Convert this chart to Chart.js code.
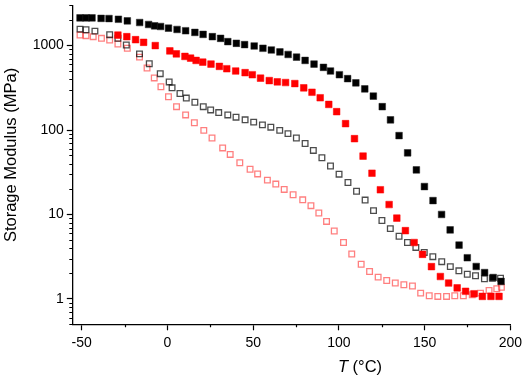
<!DOCTYPE html>
<html>
<head>
<meta charset="utf-8">
<script src="https://cdn.jsdelivr.net/npm/chart.js@4/dist/chart.umd.min.js"></script>
<style>
  body { margin: 0; background: #fff; }
  #wrap { width: 526px; height: 379px; }
</style>
</head>
<body>
<div id="wrap"><canvas id="chart"></canvas></div>
<script>
// storage modulus vs temperature, four samples
const blackFilledT = [-51, -47.5, -44, -38.7, -34.1, -28.6, -23.4, -16.2, -11, -7.5, -4, 0.6, 5.6, 10.6, 16, 20.8, 26.2, 31, 35.2, 40.2, 45, 50.6, 55.7, 60.6, 65.6, 70.4, 75.3, 80.3, 85.5, 91, 95.1, 100.3, 105.1, 109.9, 115.1, 120.1, 125.3, 130.1, 135.1, 140.1, 145.2, 149.9, 154.9, 159.9, 164.9, 170.1, 174.9, 180.1, 185, 190, 194.6];
const blackFilledE = [2128, 2128, 2128, 2100, 2090, 2050, 1963, 1875, 1778, 1715, 1683, 1607, 1552, 1499, 1432, 1357, 1275, 1218, 1114, 1064, 1027, 989, 929, 887, 841, 785, 730, 667, 604, 552, 500, 452, 406, 362, 307, 252, 189, 132, 85.9, 53.7, 33.7, 21.4, 14.6, 10, 6.56, 4.34, 3.07, 2.42, 2.05, 1.79, 1.61];

const redFilledT = [-28.9, -23.7, -18.6, -13.9, -7.1, 1.4, 5.2, 10.2, 13.5, 16.7, 20.6, 25.4, 30.3, 34.6, 39.8, 45.3, 49.5, 54.3, 59.4, 64.1, 68.9, 74.3, 79.5, 84.3, 89.1, 94.1, 98.7, 103.9, 109.1, 114.1, 119.3, 124.2, 129.3, 133.8, 138.8, 143.9, 148.8, 154, 159.2, 164, 169, 173.9, 178.8, 183.7, 188.7, 193.4];
const redFilledE = [1331, 1275, 1175, 1093, 1000, 865, 798, 744, 710, 667, 637, 604, 567, 532, 500, 478, 452, 411, 385, 372, 365, 355, 316, 280, 241, 201, 165, 119, 79, 49.1, 30.8, 19.6, 13.1, 9.05, 6.43, 4.65, 3.37, 2.41, 1.84, 1.54, 1.35, 1.23, 1.15, 1.07, 1.07, 1.07];

const blackOpenT = [-51, -47.5, -42.3, -33.7, -28.9, -24, -16.3, -10.6, -4.2, 1, 2.7, 7.3, 11, 16, 20.9, 25.2, 29.9, 35.2, 40, 45.3, 50.3, 55.4, 60.3, 65.5, 70.3, 75.2, 80.3, 85.1, 90.1, 95.1, 100.1, 105.3, 110.3, 115.3, 120.2, 125.1, 130, 135.1, 140, 144.9, 149.8, 154.8, 160, 165, 170, 174.9, 179.7, 184.9, 189.5, 194.3];
const blackOpenE = [1567, 1541, 1483, 1346, 1218, 1016, 798, 609, 465, 371, 316, 271, 239, 213, 189, 173, 161, 151, 142, 132, 124, 115, 108, 99, 90.6, 80.4, 69.2, 57.3, 46.9, 37.5, 30, 23.9, 18.8, 14.8, 11.1, 8.49, 6.79, 5.52, 4.66, 4.07, 3.55, 3.16, 2.76, 2.41, 2.15, 1.96, 1.88, 1.73, 1.76, 1.76];

const redOpenT = [-51, -47.5, -43.3, -38.5, -33.7, -28.9, -23.4, -16.3, -11.9, -7.7, -3.8, 0.6, 5.3, 10.6, 15.7, 21.2, 26, 32.2, 36.6, 42.2, 48.2, 52.6, 58.3, 63.2, 68.1, 73.3, 78.9, 83.7, 88.3, 92.8, 97.3, 102.7, 107.5, 113, 117.9, 122.9, 127.9, 132.9, 137.9, 142.9, 147.7, 152.7, 157.7, 162.8, 167.6, 172.6, 177.8, 182.6, 187.6, 192.1, 194.8];
const redOpenE = [1331, 1310, 1275, 1218, 1164, 1044, 930, 730, 542, 414, 325, 248, 189, 151, 122, 99, 80.4, 61.4, 51.4, 41, 34.3, 30.2, 25.5, 22.9, 19.8, 17.1, 14.9, 12.7, 10.4, 8.27, 6.36, 4.66, 3.4, 2.57, 2.11, 1.81, 1.65, 1.54, 1.47, 1.42, 1.17, 1.09, 1.07, 1.07, 1.09, 1.09, 1.12, 1.17, 1.26, 1.32, 1.37];

// axes: labelled (major) ticks and the short minor ones
const xLabels = [-50, 0, 50, 100, 150, 200];
const xMinor = [-25, 25, 75, 125, 175];
const yLabels = [1, 10, 100, 1000];
const yMinor = [0.5, 0.6, 0.7, 0.8, 0.9, 2, 3, 4, 5, 6, 7, 8, 9, 20, 30, 40, 50, 60, 70, 80, 90,
  200, 300, 400, 500, 600, 700, 800, 900, 2000, 3000];

const FONT = "'Liberation Sans', Arial, sans-serif";

function pts(xs, ys) {
  return xs.map((x, i) => ({ x: x, y: ys[i] }));
}

// short minor ticks + axis titles (T in italics)
const extras = {
  id: 'extras',
  afterDraw(chart) {
    const ctx = chart.ctx;
    const xs = chart.scales.x, ys = chart.scales.y;
    const area = chart.chartArea;
    ctx.save();
    ctx.strokeStyle = '#000';
    ctx.lineWidth = 1.2;
    ctx.beginPath();
    yMinor.forEach(v => {
      const py = Math.round(ys.getPixelForValue(v)) + 0.5;
      ctx.moveTo(area.left, py);
      ctx.lineTo(area.left - 3, py);
    });
    xMinor.forEach(v => {
      const px = Math.round(xs.getPixelForValue(v)) + 0.5;
      ctx.moveTo(px, area.bottom);
      ctx.lineTo(px, area.bottom + 3);
    });
    ctx.stroke();

    ctx.fillStyle = '#000';
    ctx.textBaseline = 'middle';
    // y title
    ctx.save();
    ctx.translate(11, 155);
    ctx.rotate(-Math.PI / 2);
    ctx.textAlign = 'center';
    ctx.font = '16.5px ' + FONT;
    ctx.fillText('Storage Modulus (MPa)', 0, 0);
    ctx.restore();
    // x title
    ctx.textAlign = 'left';
    ctx.font = 'italic 16.5px ' + FONT;
    const tW = ctx.measureText('T').width;
    ctx.font = '16.5px ' + FONT;
    const restW = ctx.measureText(' (°C)').width;
    const x0 = 360 - (tW + restW) / 2;
    ctx.font = 'italic 16.5px ' + FONT;
    ctx.fillText('T', x0, 367);
    ctx.font = '16.5px ' + FONT;
    ctx.fillText(' (°C)', x0 + tW, 367);
    ctx.restore();
  }
};

new Chart(document.getElementById('chart'), {
  type: 'scatter',
  data: {
    datasets: [
      {
        label: 'black filled',
        data: pts(blackFilledT, blackFilledE),
        pointStyle: 'rect',
        pointRadius: 4.7,
        backgroundColor: '#000',
        borderColor: '#222',
        borderWidth: 0.5
      },
      {
        label: 'red filled',
        data: pts(redFilledT, redFilledE),
        pointStyle: 'rect',
        pointRadius: 4.7,
        backgroundColor: '#ff0000',
        borderColor: '#f00',
        borderWidth: 0.5
      },
      {
        label: 'black open',
        data: pts(blackOpenT, blackOpenE),
        pointStyle: 'rect',
        pointRadius: 4,
        backgroundColor: 'rgba(0,0,0,0)',
        borderColor: 'rgba(0,0,0,0.7)',
        borderWidth: 1.3
      },
      {
        label: 'red open',
        data: pts(redOpenT, redOpenE),
        pointStyle: 'rect',
        pointRadius: 4,
        backgroundColor: 'rgba(0,0,0,0)',
        borderColor: 'rgba(255,0,0,0.5)',
        borderWidth: 1.3
      }
    ]
  },
  options: {
    responsive: true,
    maintainAspectRatio: false,
    animation: false,
    layout: { padding: { left: 0, right: 13.5, top: 1.5, bottom: 0 } },
    plugins: {
      legend: { display: false },
      tooltip: { enabled: false }
    },
    scales: {
      x: {
        type: 'linear',
        min: -55.5,
        max: 200,
        afterBuildTicks: s => { s.ticks = xLabels.map(v => ({ value: v })); },
        afterFit: s => { s.height = 54.7; },
        ticks: {
          autoSkip: false,
          maxRotation: 0,
          padding: 4,
          color: '#000',
          font: { family: FONT, size: 14 },
          callback: v => String(v)
        },
        grid: {
          drawOnChartArea: false,
          tickLength: 6,
          tickWidth: 1.2,
          tickColor: '#000'
        },
        border: { color: '#000', width: 1.3 },
        title: { display: false }
      },
      y: {
        type: 'logarithmic',
        min: 0.5,
        max: 3000,
        afterBuildTicks: s => { s.ticks = yLabels.map(v => ({ value: v })); },
        afterFit: s => { s.width = 72.3; s.paddingTop = 0; s.paddingBottom = 0; },
        ticks: {
          autoSkip: false,
          padding: 3,
          color: '#000',
          font: { family: FONT, size: 14 },
          callback: v => String(v)
        },
        grid: {
          drawOnChartArea: false,
          tickLength: 5.5,
          tickWidth: 1.2,
          tickColor: '#000'
        },
        border: { color: '#000', width: 1.3 },
        title: { display: false }
      }
    }
  },
  plugins: [extras]
});
</script>
</body>
</html>
